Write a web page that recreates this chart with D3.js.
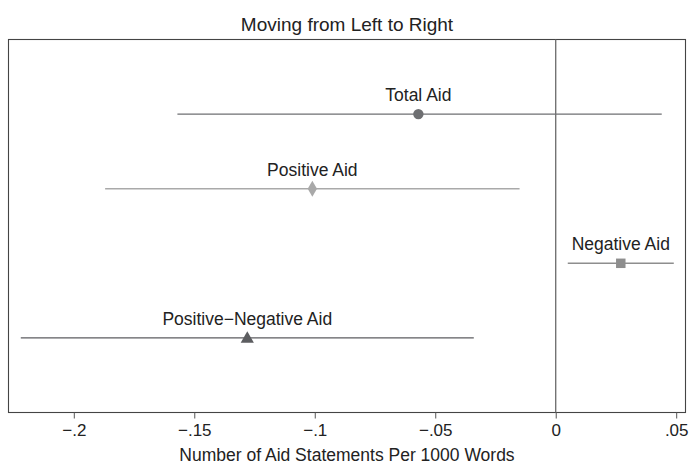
<!DOCTYPE html>
<html>
<head>
<meta charset="utf-8">
<script src="https://cdn.jsdelivr.net/npm/d3@7"></script>
<style>
html,body{margin:0;padding:0;background:#fff;}
svg{display:block;}
text{font-family:"Liberation Sans",Arial,Helvetica,sans-serif;fill:#222;}
</style>
</head>
<body>
<svg id="chart" width="689" height="464"></svg>
<script>
const categories = ["Total Aid","Positive Aid","Negative Aid","Positive\u2212Negative Aid"];
const estimates = [-0.057, -0.101, 0.027, -0.128];
const lowerCI = [-0.157, -0.187, 0.005, -0.222];
const upperCI = [0.044, -0.015, 0.049, -0.034];
const shapes = ["circle","diamond","square","triangle"];
const colors = ["#6e6f72","#a9a9a9","#8e8e8e","#5c5d60"];
const xTicks = [-0.2,-0.15,-0.1,-0.05,0,0.05];
const xTickLabels = ["\u2212.2","\u2212.15","\u2212.1","\u2212.05","0",".05"];
const title = "Moving from Left to Right";
const xTitle = "Number of Aid Statements Per 1000 Words";

const W = 689, H = 464;
const m = {left: 8.5, right: 3.5, top: 39.5, bottom: 51.5};
const svg = d3.select("#chart");

const x = d3.scaleLinear().domain([-0.2271, 0.05386]).range([m.left, W - m.right]);
const y = d3.scaleLinear().domain([0, 5]).range([m.top, H - m.bottom]);

// frame
svg.append("rect").attr("x", m.left).attr("y", m.top)
  .attr("width", W - m.right - m.left).attr("height", H - m.bottom - m.top)
  .attr("fill", "none").attr("stroke", "#444").attr("stroke-width", 1.1);

// zero line
svg.append("line").attr("x1", x(0)).attr("x2", x(0)).attr("y1", m.top).attr("y2", H - m.bottom)
  .attr("stroke", "#6a6a6a").attr("stroke-width", 1.3);

// axis
const axis = d3.axisBottom(x).tickValues(xTicks).tickSize(6).tickPadding(5)
  .tickFormat((d, i) => xTickLabels[i]);
const gA = svg.append("g").attr("transform", `translate(0,${H - m.bottom})`).call(axis);
gA.select(".domain").remove();
gA.selectAll(".tick line").attr("stroke", "#555").attr("stroke-width", 1);
gA.selectAll(".tick text").attr("font-size", 17).attr("fill", "#222")
  .attr("font-family", "'Liberation Sans',Arial,sans-serif");

// title
svg.append("text").attr("x", (m.left + W - m.right) / 2).attr("y", 31)
  .attr("text-anchor", "middle").attr("font-size", 19).text(title);
svg.append("text").attr("x", (m.left + W - m.right) / 2).attr("y", 461)
  .attr("text-anchor", "middle").attr("font-size", 17.5).text(xTitle);

const sym = {circle: d3.symbolCircle, diamond: d3.symbolDiamond, square: d3.symbolSquare, triangle: d3.symbolTriangle};
const sizes = {circle: 85, diamond: 75, square: 90, triangle: 75};

categories.forEach((c, i) => {
  const yy = y(i + 1);
  svg.append("line").attr("x1", x(lowerCI[i])).attr("x2", x(upperCI[i]))
    .attr("y1", yy).attr("y2", yy).attr("stroke", colors[i]).attr("stroke-width", 1.4);
  svg.append("path").attr("d", d3.symbol().type(sym[shapes[i]]).size(sizes[shapes[i]])())
    .attr("transform", `translate(${x(estimates[i])},${yy + (shapes[i]==="triangle"?1:0)})`)
    .attr("fill", colors[i]);
  svg.append("text").attr("x", x(estimates[i])).attr("y", yy - 13)
    .attr("text-anchor", "middle").attr("font-size", 17.5).text(c);
});
</script>
</body>
</html>
